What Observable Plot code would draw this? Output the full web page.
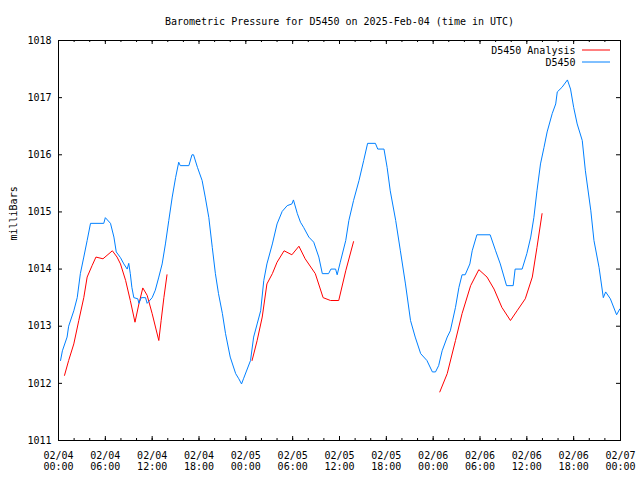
<!DOCTYPE html>
<html>
<head>
<meta charset="utf-8">
<script src="https://cdn.jsdelivr.net/npm/d3@7"></script>
<script src="https://cdn.jsdelivr.net/npm/@observablehq/plot@0.6"></script>
<style>
  html, body { margin: 0; padding: 0; background: #ffffff; }
  #chart svg { display: block; }
</style>
</head>
<body>
<div id="chart"></div>
<script>
// ---------- data ----------
const chartTitle = "Barometric Pressure for D5450 on 2025-Feb-04 (time in UTC)";
const yAxisLabel = "milliBars";
const startTime = "2025-02-04T00:00:00Z";
const endTime = "2025-02-07T00:00:00Z";
const seriesNames = ["D5450 Analysis", "D5450"];
const seriesColors = ["#ff0000", "#0080ff"];

const yTickValues = [1011, 1012, 1013, 1014, 1015, 1016, 1017, 1018];
const majorTickHours = [0, 6, 12, 18, 24, 30, 36, 42, 48, 54, 60, 66, 72];
const minorTickHours = [0, 2, 4, 6, 8, 10, 12, 14, 16, 18, 20, 22, 24, 26, 28, 30, 32, 34, 36,
  38, 40, 42, 44, 46, 48, 50, 52, 54, 56, 58, 60, 62, 64, 66, 68, 70, 72];
const xTickLabels = ["02/04\n00:00", "02/04\n06:00", "02/04\n12:00", "02/04\n18:00",
  "02/05\n00:00", "02/05\n06:00", "02/05\n12:00", "02/05\n18:00",
  "02/06\n00:00", "02/06\n06:00", "02/06\n12:00", "02/06\n18:00", "02/07\n00:00"];

// D5450 observations (hours since 2025-02-04 00:00 UTC, mb)
const stationHours = [0.26, 0.5, 1.1, 1.3, 1.96, 2.4, 2.8, 3.24, 3.67, 4.1, 5.8, 6.0, 6.66, 7.1, 7.4,
  7.94, 8.37, 8.8, 9.0, 9.2, 9.4, 9.65, 10.16, 10.3, 10.6, 11.15, 11.36, 12.0, 12.4, 12.85,
  13.28, 13.7, 14.13, 14.57, 15.0, 15.4, 15.6, 16.7, 17.1, 17.3, 17.8, 18.4, 18.8, 19.26, 19.7,
  20.1, 20.5, 21.0, 21.4, 22.0, 22.7, 23.1, 23.45, 23.7, 24.6, 25.0, 25.45, 25.9, 26.3, 26.7,
  27.4, 28.0, 28.66, 29.3, 29.9, 30.1, 30.6, 31.0, 31.4, 32.07, 32.7, 33.35, 33.8, 34.6, 34.9,
  35.5, 35.7, 36.1, 36.8, 37.2, 37.8, 38.5, 39.1, 39.6, 40.6, 40.9, 41.7, 42.1, 42.5, 43.2,
  43.8, 44.45, 45.1, 45.7, 46.4, 47.2, 47.9, 48.3, 48.7, 49.15, 49.8, 50.2, 50.86, 51.3, 51.7,
  52.1, 52.7, 53.0, 53.6, 55.3, 56.0, 56.6, 57.4, 58.25, 58.5, 59.4, 60.0, 60.5, 60.9, 61.3,
  61.75, 62.2, 62.6, 63.25, 63.7, 63.9, 64.5, 65.2, 65.6, 66.0, 66.45, 67.1, 67.5, 68.2, 68.6,
  69.25, 69.8, 70.1, 70.7, 71.5, 71.9];
const stationPressure = [1012.4, 1012.57, 1012.81, 1013.0, 1013.27, 1013.5, 1013.92, 1014.21, 1014.5,
  1014.8, 1014.8, 1014.9, 1014.8, 1014.56, 1014.3, 1014.2, 1014.09, 1014.0, 1014.1, 1013.92,
  1013.68, 1013.5, 1013.48, 1013.4, 1013.5, 1013.5, 1013.4, 1013.5, 1013.63, 1013.86, 1014.09,
  1014.44, 1014.85, 1015.26, 1015.6, 1015.87, 1015.81, 1015.81, 1016.0, 1016.0, 1015.78,
  1015.55, 1015.26, 1014.9, 1014.38, 1013.92, 1013.57, 1013.22, 1012.87, 1012.46, 1012.17,
  1012.08, 1011.99, 1012.08, 1012.4, 1012.81, 1013.04, 1013.27, 1013.8, 1014.09, 1014.44,
  1014.79, 1015.01, 1015.11, 1015.14, 1015.21, 1014.97, 1014.82, 1014.73, 1014.56, 1014.47,
  1014.21, 1013.92, 1013.92, 1014.0, 1014.0, 1013.9, 1014.12, 1014.5, 1014.85, 1015.2,
  1015.55, 1015.9, 1016.2, 1016.2, 1016.1, 1016.1, 1015.78, 1015.37, 1014.85, 1014.32,
  1013.74, 1013.1, 1012.81, 1012.52, 1012.4, 1012.2, 1012.2, 1012.31, 1012.57, 1012.81,
  1012.92, 1013.33, 1013.68, 1013.9, 1013.9, 1014.09, 1014.32, 1014.6, 1014.6, 1014.32,
  1014.09, 1013.71, 1013.71, 1014.0, 1014.0, 1014.27, 1014.56, 1014.9, 1015.37, 1015.84,
  1016.13, 1016.4, 1016.72, 1016.89, 1017.1, 1017.18, 1017.31, 1017.15, 1016.83, 1016.54,
  1016.25, 1015.72, 1015.02, 1014.5, 1014.03, 1013.5, 1013.6, 1013.48, 1013.2, 1013.3];

// D5450 Analysis (three separate runs)
const analysisHours = [0.77, 1.3, 1.96, 2.6, 3.24, 3.67, 4.3, 4.8, 5.7, 6.9, 7.5, 7.94, 8.6, 9.2,
  9.8, 10.3, 10.8, 11.36, 12.0, 12.85, 13.15, 13.5, 13.9,
  24.8, 25.45, 26.1, 26.7, 27.4, 28.0, 28.9, 29.9, 30.8, 31.6, 32.9, 33.9, 34.85, 35.9, 36.8, 37.8,
  48.85, 49.8, 50.86, 51.7, 52.8, 53.85, 54.9, 55.8, 56.8, 57.9, 58.75, 59.8, 60.7, 61.3, 61.95];
const analysisPressure = [1012.14, 1012.4, 1012.69, 1013.1, 1013.5, 1013.86, 1014.06, 1014.21,
  1014.18, 1014.32, 1014.21, 1014.09, 1013.8, 1013.45, 1013.07, 1013.39, 1013.67, 1013.54,
  1013.22, 1012.75, 1013.1, 1013.5, 1013.9,
  1012.4, 1012.75, 1013.16, 1013.74, 1013.92, 1014.12, 1014.32, 1014.25, 1014.4, 1014.18,
  1013.92, 1013.5, 1013.45, 1013.45, 1013.97, 1014.48,
  1011.85, 1012.17, 1012.75, 1013.22, 1013.71, 1013.99, 1013.86, 1013.65, 1013.33, 1013.1,
  1013.27, 1013.48, 1013.86, 1014.38, 1014.97];
const analysisRun = [
  "a","a","a","a","a","a","a","a","a","a","a","a","a","a","a","a","a","a","a","a","a","a","a",
  "b","b","b","b","b","b","b","b","b","b","b","b","b","b","b","b",
  "c","c","c","c","c","c","c","c","c","c","c","c","c","c","c"];

// ---------- build ----------
const t0 = new Date(startTime);
const t1 = new Date(endTime);
const atHour = (h) => new Date(t0.getTime() + h * 3600 * 1000);

const station = stationHours.map((h, i) => ({time: atHour(h), p: stationPressure[i]}));
const analysis = analysisHours.map((h, i) => ({time: atHour(h), p: analysisPressure[i], run: analysisRun[i]}));
const majorTicks = majorTickHours.map(atHour);
const minorTicks = minorTickHours.map(atHour);
const xLabels = majorTickHours.map((h, i) => ({time: atHour(h), label: xTickLabels[i]}));

const W = 640, H = 480;
const mL = 58, mR = 20, mT = 40, mB = 40;
const frameW = W - mL - mR, frameH = H - mT - mB;
const majorLen = 4, minorLen = 2, yTickLen = 4;

const chart = Plot.plot({
  width: W,
  height: H,
  marginLeft: mL,
  marginRight: mR,
  marginTop: mT,
  marginBottom: mB,
  style: {fontFamily: "'DejaVu Sans Mono', monospace", fontSize: "10px", background: "#ffffff", color: "#000000"},
  x: {type: "utc", domain: [t0, t1], axis: null},
  y: {domain: [1011, 1018], axis: null},
  marks: [
    // data lines
    Plot.line(analysis, {x: "time", y: "p", z: "run", stroke: seriesColors[0], strokeWidth: 1}),
    Plot.line(station, {x: "time", y: "p", stroke: seriesColors[1], strokeWidth: 1}),
    // frame
    Plot.frame({stroke: "#000000", strokeWidth: 1}),
    // inward ticks, bottom & top
    Plot.tickX(minorTicks, {x: (d) => d, insetTop: frameH - minorLen, stroke: "#000"}),
    Plot.tickX(minorTicks, {x: (d) => d, insetBottom: frameH - minorLen, stroke: "#000"}),
    Plot.tickX(majorTicks, {x: (d) => d, insetTop: frameH - majorLen, stroke: "#000"}),
    Plot.tickX(majorTicks, {x: (d) => d, insetBottom: frameH - majorLen, stroke: "#000"}),
    // inward ticks, left & right
    Plot.tickY(yTickValues, {y: (d) => d, insetRight: frameW - yTickLen, stroke: "#000"}),
    Plot.tickY(yTickValues, {y: (d) => d, insetLeft: frameW - yTickLen, stroke: "#000"}),
    // tick labels
    Plot.text(yTickValues, {y: (d) => d, text: (d) => String(d), frameAnchor: "left", textAnchor: "end", lineAnchor: "middle", dx: -7, fill: "#000"}),
    Plot.text(xLabels, {x: "time", text: "label", frameAnchor: "bottom", lineAnchor: "top", dy: 10, lineHeight: 1.15, fill: "#000"}),
    // title and y label
    Plot.text([chartTitle], {frameAnchor: "top", lineAnchor: "middle", dy: -19, fill: "#000"}),
    Plot.text([yAxisLabel], {frameAnchor: "left", lineAnchor: "middle", rotate: -90, dx: -45, fill: "#000"}),
    // legend text
    Plot.text([seriesNames[0]], {frameAnchor: "top-right", textAnchor: "end", lineAnchor: "middle", dx: -45, dy: 10, fill: "#000"}),
    Plot.text([seriesNames[1]], {frameAnchor: "top-right", textAnchor: "end", lineAnchor: "middle", dx: -45, dy: 22, fill: "#000"})
  ]
});

// legend sample lines
const svg = d3.select(chart);
const legendX1 = W - mR - 38, legendX2 = W - mR - 10;
[0, 1].forEach((i) => {
  svg.append("line")
    .attr("x1", legendX1).attr("x2", legendX2)
    .attr("y1", mT + 10 + 12 * i).attr("y2", mT + 10 + 12 * i)
    .attr("stroke", seriesColors[i]).attr("stroke-width", 1);
});

document.getElementById("chart").appendChild(chart);
</script>
</body>
</html>
